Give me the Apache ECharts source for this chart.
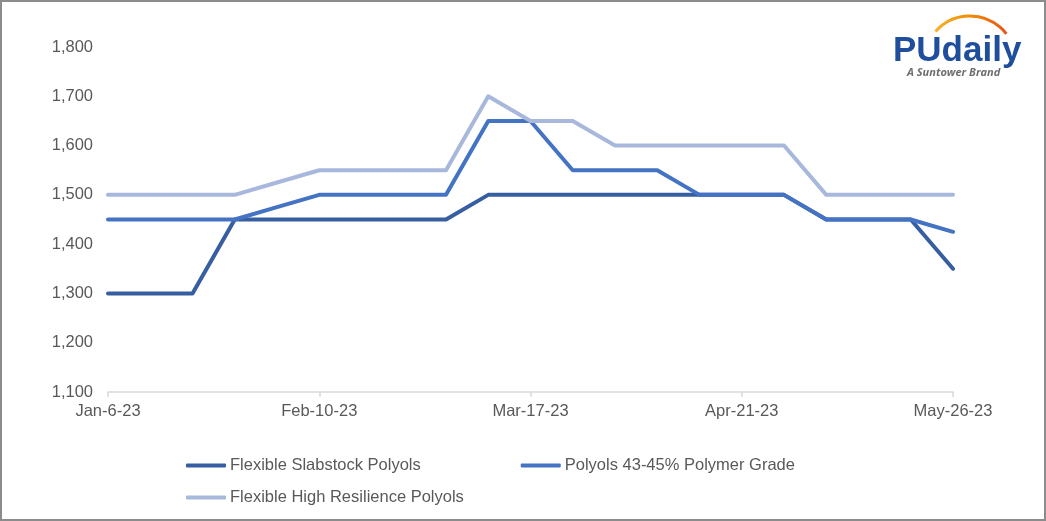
<!DOCTYPE html>
<html>
<head>
<meta charset="utf-8">
<script src="https://cdn.jsdelivr.net/npm/echarts@6/dist/echarts.min.js"></script>
<style>
html,body{margin:0;padding:0;background:#fff;}
#wrap{position:absolute;left:0;top:0;width:1042px;height:517px;border:2px solid #8c8c8c;}
#c{width:1042px;height:517px;}
</style>
</head>
<body>
<div id="wrap"><div id="c"></div></div>
<script>
const categories = ['Jan-6-23','Jan-13-23','Jan-20-23','Jan-27-23','Feb-3-23','Feb-10-23','Feb-17-23','Feb-24-23','Mar-3-23','Mar-10-23','Mar-17-23','Mar-24-23','Mar-31-23','Apr-7-23','Apr-14-23','Apr-21-23','Apr-28-23','May-5-23','May-12-23','May-19-23','May-26-23'];
const slabstock = [1300,1300,1300,1450,1450,1450,1450,1450,1450,1500,1500,1500,1500,1500,1500,1500,1500,1450,1450,1450,1350];
const polymerGrade = [1450,1450,1450,1450,1475,1500,1500,1500,1500,1650,1650,1550,1550,1550,1500,1500,1500,1450,1450,1450,1425];
const highResilience = [1500,1500,1500,1500,1525,1550,1550,1550,1550,1700,1650,1650,1600,1600,1600,1600,1600,1500,1500,1500,1500];
const yTicks = {min:1100, max:1800, interval:100};

const chart = echarts.init(document.getElementById('c'));
const txt = '#595959';
const font = 'Liberation Sans, Arial, sans-serif';
const fs = 16.5;
function mk(name, data, color){
  return {name, type:'line', data, symbol:'none', smooth:false,
    lineStyle:{color, width:4, cap:'round', join:'round'}, itemStyle:{color}};
}
chart.setOption({
  animation:false,
  grid:{left:106, right:91, top:45, bottom:127},
  xAxis:{type:'category', data:categories, boundaryGap:false,
    axisLine:{lineStyle:{color:'#d9d9d9', width:1.5}},
    axisTick:{show:true, interval:4, length:5, lineStyle:{color:'#d9d9d9', width:1.5}},
    axisLabel:{interval:4, color:txt, fontSize:fs, fontFamily:font, margin:11}},
  yAxis:{type:'value', min:yTicks.min, max:yTicks.max, interval:yTicks.interval,
    axisLine:{show:false}, axisTick:{show:false}, splitLine:{show:false},
    axisLabel:{color:txt, fontSize:fs, fontFamily:font, margin:15,
      formatter:v=>v.toLocaleString('en-US')}},
  legend:[
    {data:['Flexible Slabstock Polyols','Polyols 43-45% Polymer Grade'], left:179, top:450,
     itemWidth:40, itemHeight:4, itemGap:100, icon:'roundRect',
     textStyle:{color:txt, fontSize:fs, fontFamily:font, padding:[0,0,0,-1]}},
    {data:['Flexible High Resilience Polyols'], left:179, top:482,
     itemWidth:40, itemHeight:4, icon:'roundRect',
     textStyle:{color:txt, fontSize:fs, fontFamily:font, padding:[0,0,0,-1]}}
  ],
  graphic:[
    {type:'arc', shape:{cx:968, cy:60, r:46, startAngle:-Math.PI*0.77, endAngle:-Math.PI*0.21},
     style:{fill:null, lineWidth:3,
       stroke:new echarts.graphic.LinearGradient(0,0,1,0,[{offset:0,color:'#f7b52a'},{offset:0.5,color:'#f08a00'},{offset:1,color:'#e8501b'}])}},
    {type:'text', left:891, top:32, style:{text:'PUdaily', fill:'#1f4e9c', font:'bold 35px "Liberation Sans", Arial, sans-serif'}},
    {type:'text', left:905, top:65, style:{text:'A Suntower Brand', fill:'#6d6d6d', font:'italic bold 11px "Open Sans", Arial, sans-serif'}}
  ],
  series:[
    mk('Flexible Slabstock Polyols', slabstock, '#365ea1'),
    mk('Polyols 43-45% Polymer Grade', polymerGrade, '#4573c4'),
    mk('Flexible High Resilience Polyols', highResilience, '#a8b8dc')
  ]
});
</script>
</body>
</html>
